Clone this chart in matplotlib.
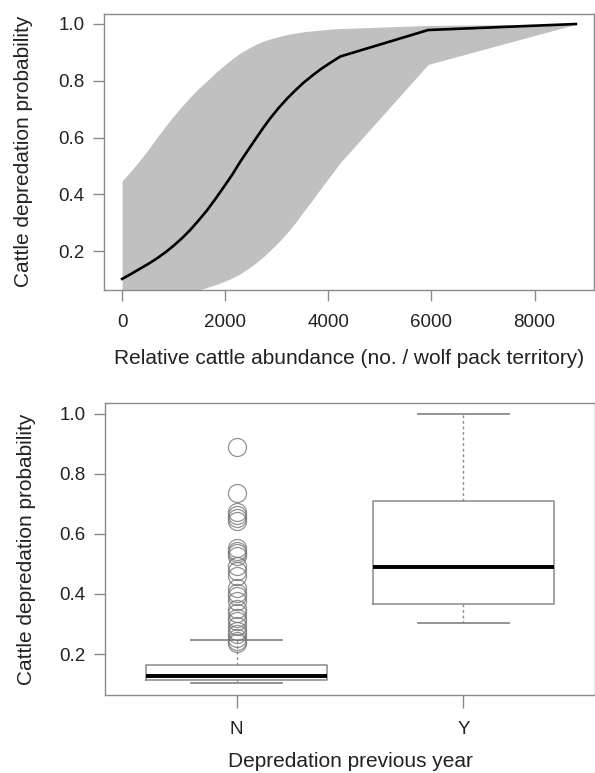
import matplotlib
matplotlib.use("Agg")
import matplotlib.pyplot as plt

plt.rcParams['font.family'] = ['Liberation Sans', 'DejaVu Sans']

# curva de probabilidad (panel superior)
abundancia = [0, 150, 300, 500, 674, 850, 1000, 1160, 1320, 1480, 1650, 1800,
              1967, 2130, 2291, 2450, 2600, 2740, 2874, 3040, 3200, 3360, 3520,
              3690, 3850, 4040, 4233, 5936, 8800]
prob = [0.103, 0.118, 0.134, 0.155, 0.175, 0.198, 0.220, 0.246, 0.275, 0.308,
        0.345, 0.382, 0.425, 0.468, 0.515, 0.558, 0.598, 0.635, 0.668, 0.705,
        0.737, 0.766, 0.793, 0.818, 0.840, 0.863, 0.885, 0.978, 0.999]
prob_sup = [0.448, 0.478, 0.510, 0.556, 0.600, 0.642, 0.676, 0.710, 0.742,
            0.772, 0.800, 0.826, 0.852, 0.876, 0.897, 0.914, 0.928, 0.939,
            0.947, 0.955, 0.962, 0.967, 0.972, 0.975, 0.978, 0.981, 0.983,
            0.994, 0.9995]
prob_inf = [0.010, 0.015, 0.020, 0.026, 0.032, 0.038, 0.044, 0.050, 0.057,
            0.064, 0.073, 0.082, 0.093, 0.106, 0.121, 0.140, 0.160, 0.181,
            0.204, 0.233, 0.265, 0.300, 0.340, 0.380, 0.420, 0.466, 0.512,
            0.857, 0.998]

# boxplot (panel inferior)
grupos = ["N", "Y"]
q1 = [0.114, 0.366]
mediana = [0.126, 0.488]
q3 = [0.165, 0.710]
bigote_inf = [0.103, 0.303]
bigote_sup = [0.246, 1.0]
atipicos_N = [0.888, 0.735, 0.674, 0.663, 0.652, 0.641, 0.553, 0.542, 0.536,
              0.525, 0.492, 0.476, 0.459, 0.421, 0.404, 0.393, 0.377, 0.349,
              0.338, 0.321, 0.310, 0.294, 0.277, 0.266, 0.255, 0.244, 0.238]
atipicos = [atipicos_N, []]

gris = "#8a8a8a"
texto = "#222222"

fig = plt.figure(figsize=(5.95, 7.73), dpi=100)

def estilo(ax, largo):
    for s in ax.spines.values():
        s.set_color(gris)
        s.set_linewidth(1.0)
    ax.tick_params(colors=gris, labelcolor=texto, labelsize=13.5,
                   length=largo, width=1.0)
    ax.tick_params(axis="x", pad=9)
    ax.tick_params(axis="y", pad=6, length=8)

#* panel superior
ax1 = fig.add_axes([104/595, 1 - 290/773, 490/595, 276.5/773])
ax1.fill_between(abundancia, prob_inf, prob_sup, color="#c0c0c0", lw=0)
ax1.plot(abundancia, prob, color="black", lw=1.9)
ax1.set_xlim(-352, 9152)
ax1.set_ylim(0.064, 1.036)
ax1.set_xticks([0, 2000, 4000, 6000, 8000])
ax1.set_yticks([0.2, 0.4, 0.6, 0.8, 1.0])
ax1.set_xlabel("Relative cattle abundance (no. / wolf pack territory)",
               fontsize=15, color=texto, labelpad=13)
ax1.set_ylabel("Cattle depredation probability", fontsize=15, color=texto,
               labelpad=18)
estilo(ax1, 8)

#* panel inferior
ax2 = fig.add_axes([105/595, 1 - 695/773, 490/595, 292.3/773])
stats = []
for i in range(len(grupos)):
    stats.append(dict(q1=q1[i], med=mediana[i], q3=q3[i], whislo=bigote_inf[i],
                      whishi=bigote_sup[i], fliers=atipicos[i], label=grupos[i]))
ax2.bxp(stats, positions=[1, 2], widths=0.8, patch_artist=False,
        boxprops=dict(color=gris, lw=1.1),
        medianprops=dict(color="black", lw=2.8),
        whiskerprops=dict(color=gris, lw=1.0, ls=(0, (2, 2))),
        capprops=dict(color=gris, lw=1.3),
        capwidths=0.4,
        flierprops=dict(marker="o", markerfacecolor="none",
                        markeredgecolor="#777777", markersize=13,
                        markeredgewidth=0.9, alpha=0.8))
ax2.set_xlim(0.42, 2.58)
ax2.set_ylim(0.064, 1.036)
ax2.set_yticks([0.2, 0.4, 0.6, 0.8, 1.0])
ax2.set_xlabel("Depredation previous year", fontsize=15, color=texto,
               labelpad=10)
ax2.set_ylabel("Cattle depredation probability", fontsize=15, color=texto,
               labelpad=17)
estilo(ax2, 9.5)

fig.savefig("out.png", dpi=100)
